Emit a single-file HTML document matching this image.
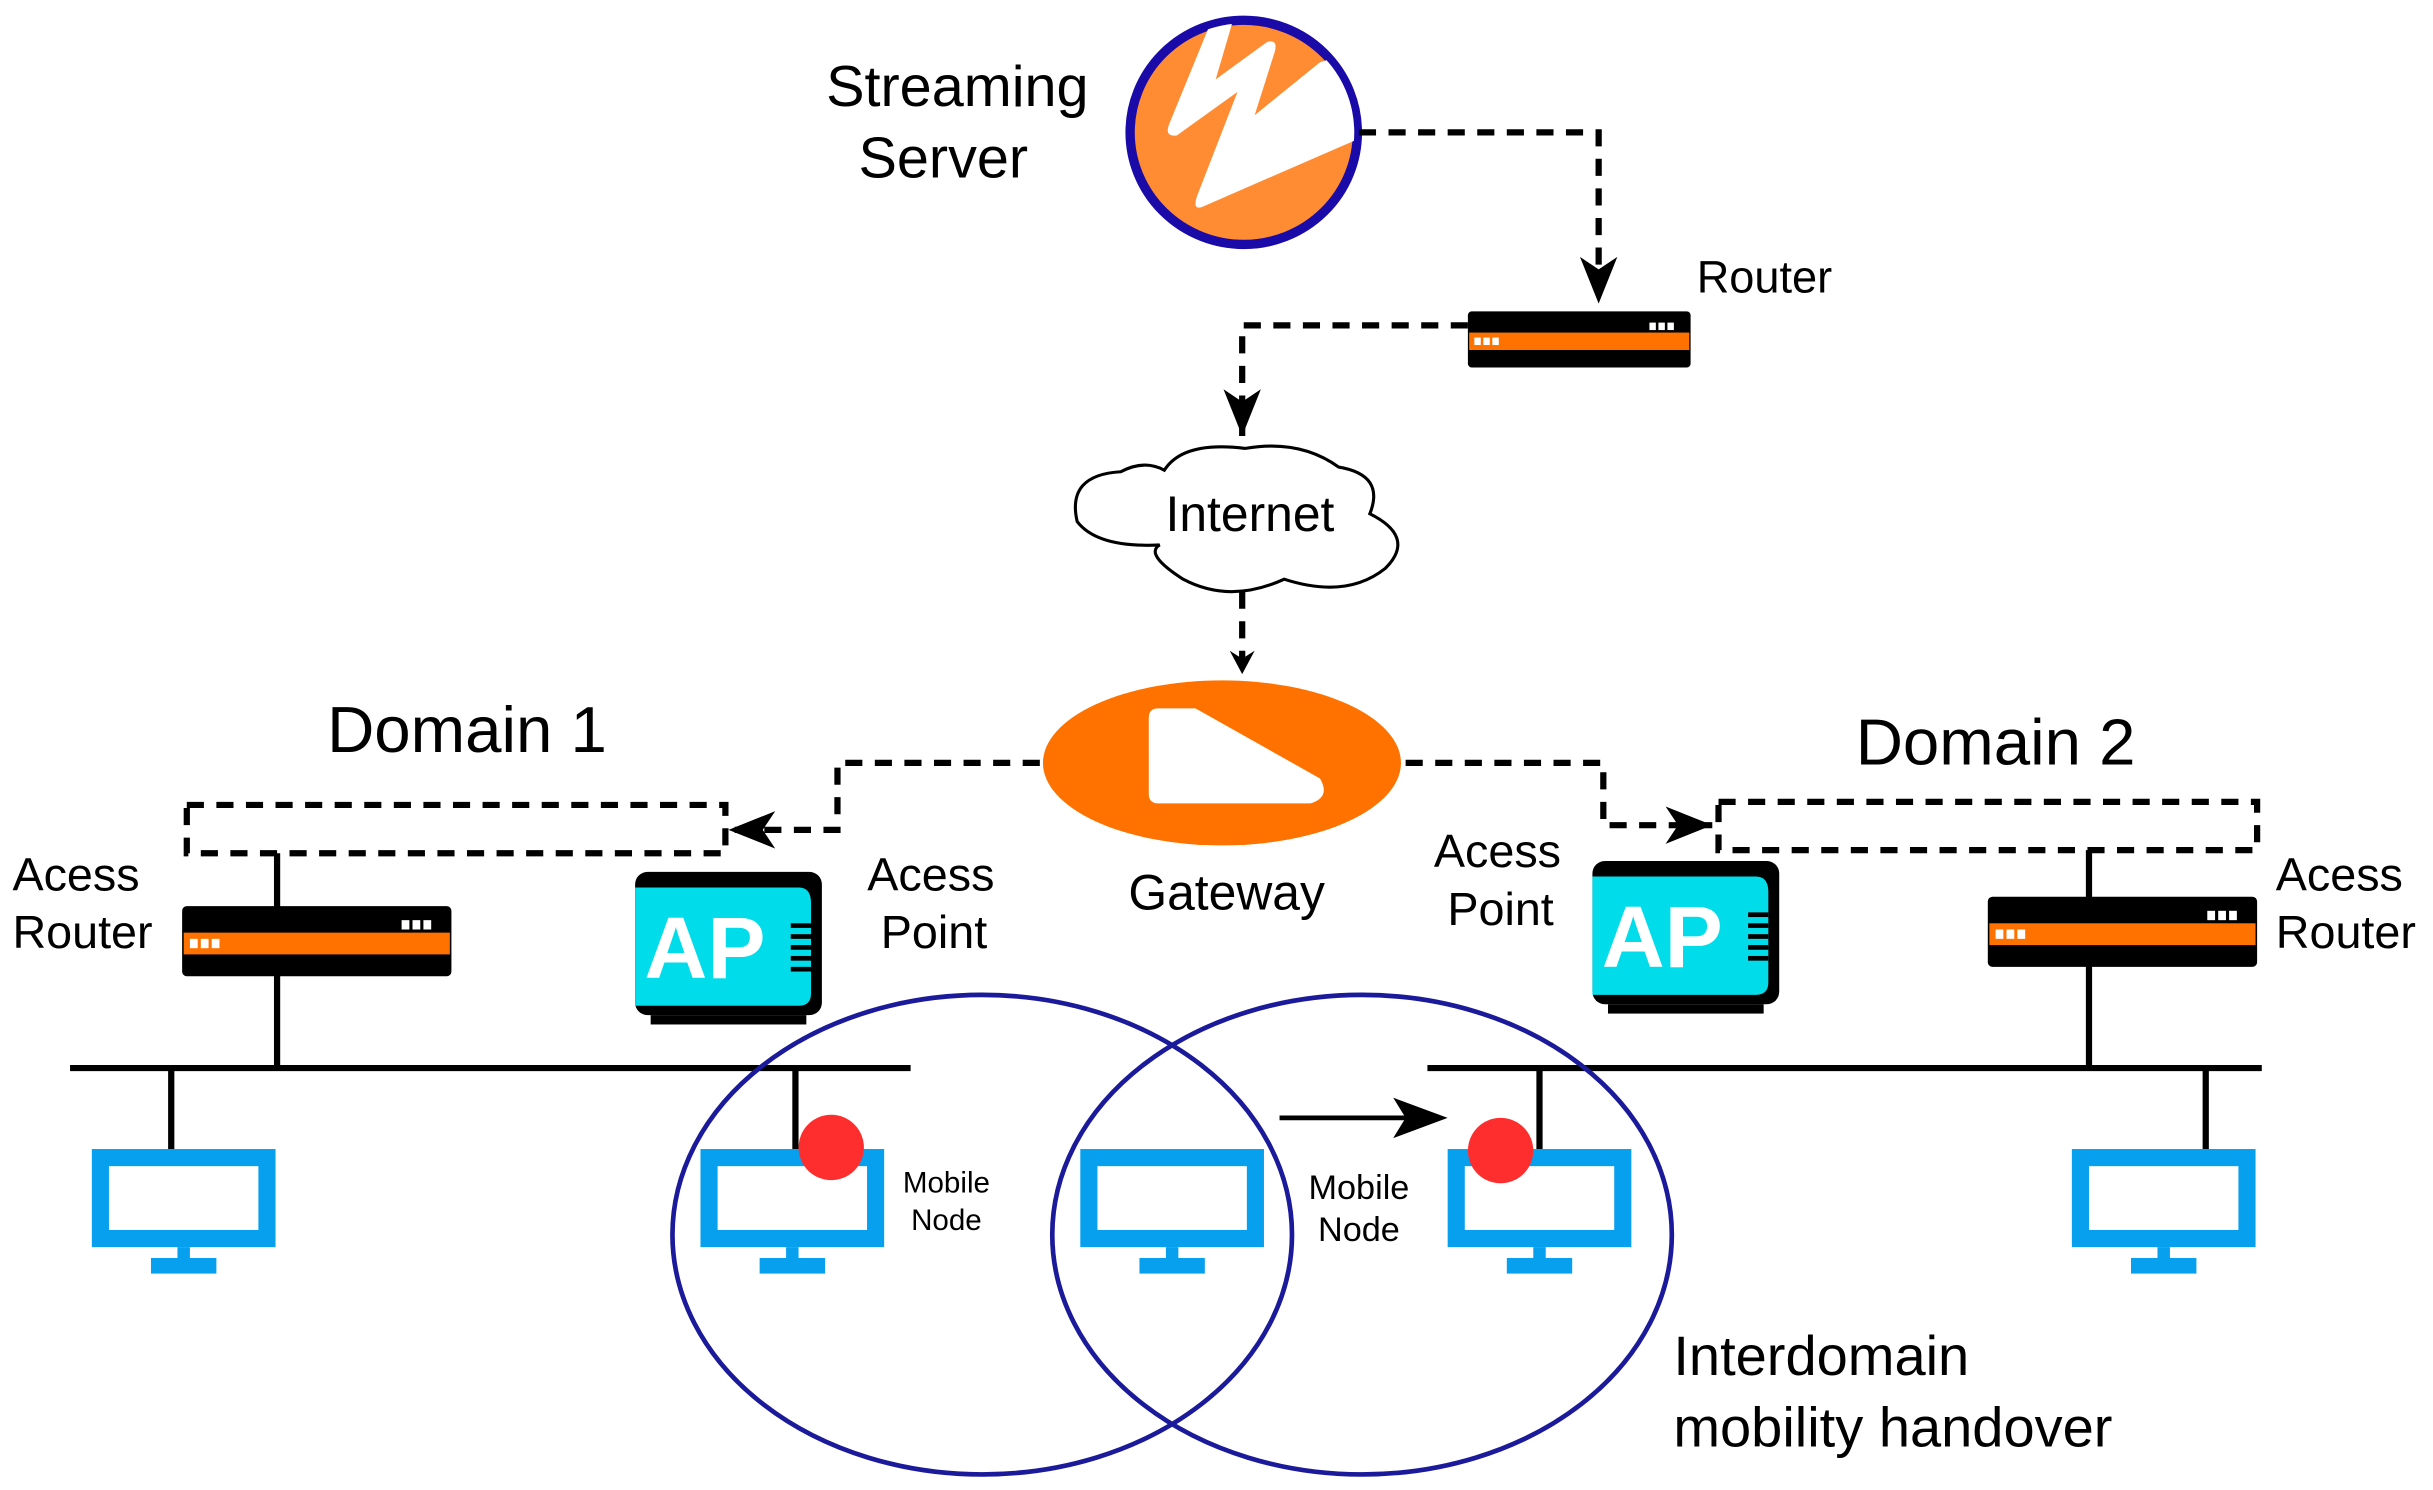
<!DOCTYPE html>
<html><head><meta charset="utf-8"><style>html,body{margin:0;padding:0;background:#fff}svg{display:block}text{font-family:"Liberation Sans",sans-serif;fill:#000}</style></head><body>
<svg width="2433" height="1490" viewBox="0 0 1563 957" preserveAspectRatio="none" xmlns="http://www.w3.org/2000/svg">
<defs>
<marker id="ah" viewBox="0 0 30 24" refX="30" refY="12" markerWidth="30" markerHeight="24" markerUnits="userSpaceOnUse" orient="auto"><path d="M0,0 L30,12 L0,24 L8,12 Z" fill="#000"/></marker>
<clipPath id="cc"><ellipse cx="799" cy="85" rx="71" ry="70"/></clipPath>
<g id="mon"><rect x="5.5" y="5.5" width="107" height="52" fill="#fff" stroke="#06a0ef" stroke-width="11"/><rect x="55" y="63" width="8" height="8" fill="#06a0ef"/><rect x="38" y="70" width="42" height="10" fill="#06a0ef"/></g>
<g id="rtr"><rect x="0" y="0" width="173" height="45" rx="3" fill="#000"/><rect x="1" y="17" width="171" height="14" fill="#ff7200"/><rect x="5" y="21" width="5" height="6" fill="#fff"/><rect x="12" y="21" width="5" height="6" fill="#fff"/><rect x="19" y="21" width="5" height="6" fill="#fff"/><rect x="141" y="9" width="5" height="6" fill="#fff"/><rect x="148" y="9" width="5" height="6" fill="#fff"/><rect x="155" y="9" width="5" height="6" fill="#fff"/></g>
<g id="ap"><rect x="0" y="0" width="120" height="92" rx="8" fill="#000"/><path d="M0,10 H105 Q113,10 113,20 V78 Q113,86 105,86 H0 Z" fill="#00dcea"/><rect x="10" y="92" width="100" height="6" fill="#000"/><text x="6" y="68" font-size="56" font-weight="bold" style="fill:#fff">AP</text><g fill="#000"><rect x="100" y="33" width="13" height="3"/><rect x="100" y="40" width="13" height="3"/><rect x="100" y="47" width="13" height="3"/><rect x="100" y="54" width="13" height="3"/><rect x="100" y="61" width="13" height="3"/></g></g>
</defs>
<!-- server -->
<ellipse cx="799" cy="85" rx="73" ry="72" fill="#ff8c33" stroke="#1a0aa8" stroke-width="6"/>
<g clip-path="url(#cc)"><path d="M778,14 L793,10 L781,51 L814,27 Q821,25 819,33 L806,74 L848,40 L880,30 L880,86 L772,133 Q766,135 769,126 L795,59 L756,87 Q748,88 751,80 Z" fill="#fff"/></g>
<text x="615" y="68" font-size="37" text-anchor="middle">Streaming</text>
<text x="606" y="114" font-size="37" text-anchor="middle">Server</text>
<!-- dashed connectors -->
<g fill="none" stroke="#000" stroke-width="4" stroke-dasharray="11,8">
<path d="M873,85 H1027 V195" marker-end="url(#ah)"/>
<path d="M943,209 H798 V280" marker-end="url(#ah)"/>
<path d="M798,380 V433"/>
<path d="M668,490 H538 V533 H468" marker-end="url(#ah)"/>
<path d="M903,490 H1030 V530 H1100" marker-end="url(#ah)"/>
<rect x="120" y="517" width="346" height="31"/>
<rect x="1104" y="515" width="346" height="31"/>
</g>
<path d="M790,418 L798,433 L806,418 L798,423 Z" fill="#000"/>
<use href="#rtr" transform="translate(943,200) scale(0.827,0.8)"/>
<text x="1090" y="188" font-size="29">Router</text>
<!-- cloud -->
<path d="M748,302 Q760,283 800,288 Q835,282 860,300 Q890,305 880,330 Q910,345 890,365 Q865,385 825,372 Q790,388 760,372 Q735,356 745,350 Q705,352 692,335 Q685,305 720,303 Q735,295 748,302 Z" fill="#fff" stroke="#000" stroke-width="2"/>
<text x="803" y="341" font-size="32" text-anchor="middle">Internet</text>
<!-- gateway -->
<ellipse cx="785" cy="490" rx="115" ry="53" fill="#ff7200"/>
<path d="M744,455 L768,455 L848,500 Q855,512 842,516 L744,516 Q738,516 738,510 L738,461 Q738,455 744,455 Z" fill="#fff"/>
<text x="788" y="584" font-size="32" text-anchor="middle">Gateway</text>
<text x="300" y="483" font-size="42" text-anchor="middle">Domain 1</text>
<text x="1282" y="491" font-size="42" text-anchor="middle">Domain 2</text>
<g stroke="#000" stroke-width="4" fill="none">
<path d="M45,686 H585 M917,686 H1453"/>
<path d="M178,548 V686 M110,686 V738 M511,686 V738 M1342,546 V686 M989,686 V738 M1417,686 V738"/>
<path d="M822,718 H905" stroke-width="3"/>
</g>
<path d="M930,718 L895,705 L903,718 L895,731 Z" fill="#000"/>
<use href="#rtr" x="117" y="582"/>
<use href="#rtr" x="1277" y="576"/>
<use href="#ap" x="408" y="560"/>
<use href="#ap" x="1023" y="553"/>
<text x="8" y="572" font-size="30">Acess</text>
<text x="8" y="609" font-size="30">Router</text>
<text x="598" y="572" font-size="30" text-anchor="middle">Acess</text>
<text x="600" y="609" font-size="30" text-anchor="middle">Point</text>
<text x="962" y="557" font-size="30" text-anchor="middle">Acess</text>
<text x="964" y="594" font-size="30" text-anchor="middle">Point</text>
<text x="1462" y="572" font-size="30">Acess</text>
<text x="1462" y="609" font-size="30">Router</text>
<use href="#mon" x="59" y="738"/>
<use href="#mon" x="450" y="738"/>
<use href="#mon" x="694" y="738"/>
<use href="#mon" x="930" y="738"/>
<use href="#mon" x="1331" y="738"/>
<circle cx="534" cy="737" r="21" fill="#ff2e2e"/>
<circle cx="964" cy="739" r="21" fill="#ff2e2e"/>
<text x="608" y="766" font-size="19" text-anchor="middle">Mobile</text>
<text x="608" y="790" font-size="19" text-anchor="middle">Node</text>
<text x="873" y="770" font-size="22" text-anchor="middle">Mobile</text>
<text x="873" y="797" font-size="22" text-anchor="middle">Node</text>
<ellipse cx="631" cy="793" rx="199" ry="154" fill="none" stroke="#1a1a9a" stroke-width="3"/>
<ellipse cx="875" cy="793" rx="199" ry="154" fill="none" stroke="#1a1a9a" stroke-width="3"/>
<text x="1075" y="883" font-size="36">Interdomain</text>
<text x="1075" y="929" font-size="36">mobility handover</text>
</svg>
</body></html>
